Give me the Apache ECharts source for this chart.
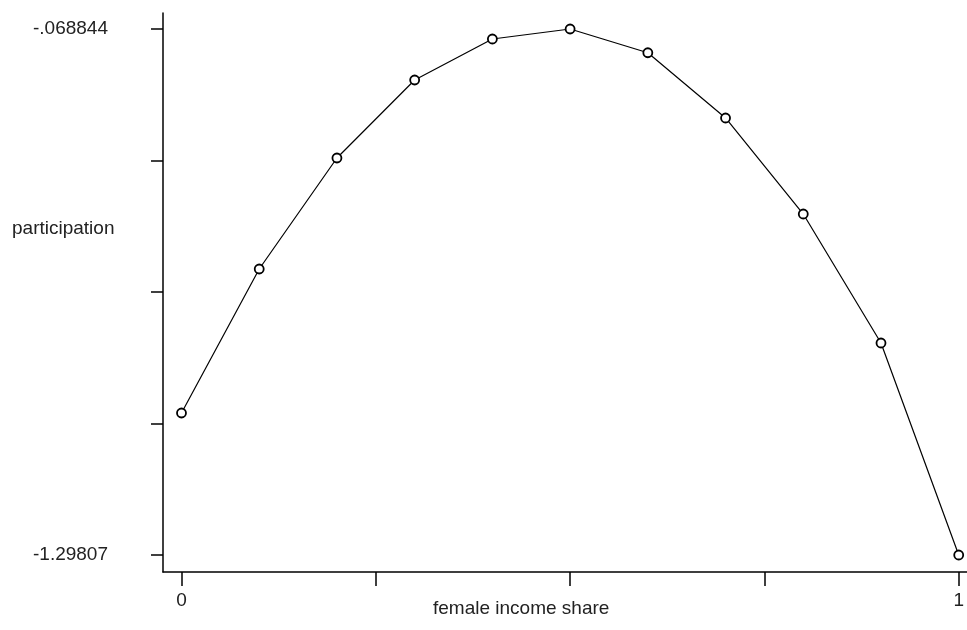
<!DOCTYPE html>
<html>
<head>
<meta charset="utf-8">
<script src="https://cdn.jsdelivr.net/npm/echarts@6/dist/echarts.min.js"></script>
<style>html,body{margin:0;padding:0;background:#fff}#c{width:967px;height:630px}</style>
</head>
<body>
<div id="c"></div>
<script>
// data
const xValues = [0, 0.1, 0.2, 0.3, 0.4, 0.5, 0.6, 0.7, 0.8, 0.9, 1];
const participation = [-0.9662, -0.6297, -0.3703, -0.1880, -0.0922, -0.068844, -0.1243, -0.2768, -0.5012, -0.8026, -1.29807];
const xTickValues = [0, 0.25, 0.5, 0.75, 1];
const xLabelValues = [0, 1];
const xLabelTexts = ['0', '1'];
const yTickValues = [-0.068844, -0.376151, -0.683457, -0.990764, -1.29807];
const yLabelValues = [-0.068844, -1.29807];
const yLabelTexts = ['-.068844', '-1.29807'];
const xTitle = 'female income share';
const yTitle = 'participation';

function pick(vals, texts, v) {
  let best = 0, d = Infinity;
  vals.forEach((x, i) => { const dd = Math.abs(x - v); if (dd < d) { d = dd; best = i; } });
  return texts[best];
}

const font = '"Liberation Sans", Arial, sans-serif';
const txtColor = '#222';
const chart = echarts.init(document.getElementById('c'), null, {renderer: 'canvas'});
chart.setOption({
  animation: false,
  backgroundColor: '#fff',
  grid: {left: 163, right: 0, top: 13, bottom: 58, containLabel: false},
  xAxis: {
    type: 'value', min: -0.0238, max: 1.0103,
    splitLine: {show: false},
    axisLine: {show: true, onZero: false, lineStyle: {color: '#000', width: 1.5}},
    axisTick: {show: true, length: 14, inside: false, customValues: xTickValues, lineStyle: {color: '#000', width: 1.5}},
    axisLabel: {show: true, customValues: xLabelValues, margin: 19, color: txtColor, fontSize: 19, fontFamily: font,
      formatter: v => pick(xLabelValues, xLabelTexts, v)}
  },
  yAxis: {
    type: 'value', min: -1.3378, max: -0.03145,
    splitLine: {show: false},
    axisLine: {show: true, onZero: false, lineStyle: {color: '#000', width: 1.5}},
    axisTick: {show: true, length: 12, inside: false, customValues: yTickValues, lineStyle: {color: '#000', width: 1.5}},
    axisLabel: {show: true, customValues: yLabelValues, margin: 55, color: txtColor, fontSize: 19, fontFamily: font,
      verticalAlign: 'middle', padding: [6, 0, 0, 0],
      formatter: v => pick(yLabelValues, yLabelTexts, v)}
  },
  graphic: [
    {type: 'text', left: 433, top: 599, style: {text: xTitle, fill: txtColor, font: '19px ' + font}},
    {type: 'text', left: 12, top: 219, style: {text: yTitle, fill: txtColor, font: '19px ' + font}}
  ],
  series: [{
    type: 'line',
    data: xValues.map((x, i) => [x, participation[i]]),
    clip: false,
    symbol: 'circle', symbolSize: 9,
    lineStyle: {color: '#000', width: 1.2},
    itemStyle: {color: '#fff', borderColor: '#000', borderWidth: 1.8}
  }]
});
</script>
</body>
</html>
